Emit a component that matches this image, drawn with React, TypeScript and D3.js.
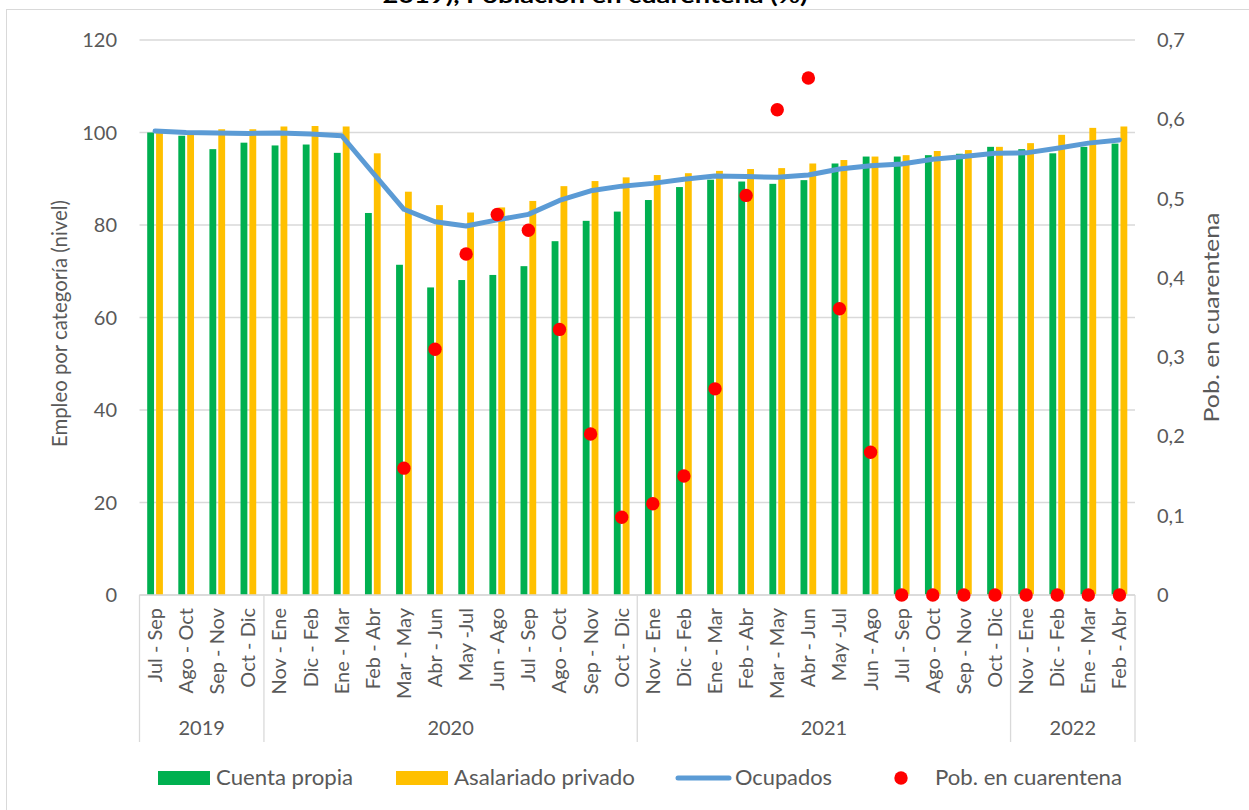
import React from "react";
import * as d3 from "d3";

const periods: string[] = [
  "Jul - Sep", "Ago - Oct", "Sep - Nov", "Oct - Dic",
  "Nov - Ene", "Dic - Feb", "Ene - Mar", "Feb - Abr", "Mar - May", "Abr - Jun", "May -Jul", "Jun - Ago", "Jul - Sep", "Ago - Oct", "Sep - Nov", "Oct - Dic",
  "Nov - Ene", "Dic - Feb", "Ene - Mar", "Feb - Abr", "Mar - May", "Abr - Jun", "May -Jul", "Jun - Ago", "Jul - Sep", "Ago - Oct", "Sep - Nov", "Oct - Dic",
  "Nov - Ene", "Dic - Feb", "Ene - Mar", "Feb - Abr",
];
const yearLabels: string[] = ["2019", "2020", "2021", "2022"];
const yearCounts: number[] = [4, 12, 12, 4];

const cuentaPropia: number[] = [
  100, 99.3, 96.4, 97.8,
  97.2, 97.4, 95.6, 82.6, 71.4, 66.5, 68.1, 69.2, 71.1, 76.5, 80.9, 82.9,
  85.4, 88.2, 89.8, 89.4, 88.9, 89.7, 93.3, 94.8, 94.8, 95.1, 95.4, 96.9,
  96.4, 95.5, 96.9, 97.6,
];
const asalariadoPrivado: number[] = [
  100.3, 99.8, 100.7, 100.7,
  101.3, 101.4, 101.3, 95.5, 87.2, 84.3, 82.7, 83.8, 85.2, 88.4, 89.5, 90.3,
  90.8, 91.2, 91.7, 92.1, 92.3, 93.3, 94.05, 94.8, 95.1, 96.0, 96.2, 96.9,
  97.7, 99.5, 101.0, 101.3,
];
const ocupados: number[] = [
  100.3, 100.0, 99.9, 99.8,
  99.9, 99.7, 99.3, 91.3, 83.4, 80.7, 79.8, 81.1, 82.3, 85.3, 87.4, 88.4,
  89.0, 89.9, 90.6, 90.5, 90.3, 90.8, 92.1, 92.8, 93.2, 94.2, 94.8, 95.5,
  95.6, 96.6, 97.7, 98.4,
];
const cuarentena: (number | null)[] = [
  null, null, null, null,
  null, null, null, null, 0.16, 0.31, 0.43, 0.48, 0.46, 0.335, 0.203, 0.098,
  0.115, 0.15, 0.26, 0.504, 0.612, 0.652, 0.361, 0.18, 0, 0, 0, 0,
  0, 0, 0, 0,
];
const leftTicks: number[] = [0, 20, 40, 60, 80, 100, 120];
const rightTicks: number[] = [0, 0.1, 0.2, 0.3, 0.4, 0.5, 0.6, 0.7];

const W = 1249;
const H = 810;
const FONT = "Lato, 'Open Sans', sans-serif";
const TXT = "#595959";
const GRID = "#D9D9D9";
const GREEN = "#00B050";
const YELLOW = "#FFC000";
const BLUE = "#5B9BD5";
const RED = "#FF0000";

export default function App() {
  const left = 139.5, right = 1135, top = 40, bottom = 595;
  const idx = periods.map((_, i) => i);
  const x = d3.scaleBand<number>().domain(idx).range([left, right]).padding(0);
  const bw = x.bandwidth();
  const cx = (i: number) => (x(i) as number) + bw / 2;
  const y = d3.scaleLinear().domain([0, 120]).range([bottom, top]);
  const y2 = d3.scaleLinear().domain([0, 0.7]).range([bottom, top]);
  const barW = bw * 0.22;
  const gap = bw * 0.065;

  const line = d3.line<number>().x((_, i) => cx(i)).y((d) => y(d));

  const fmt = (v: number) => (v === 0 ? "0" : d3.format(".1f")(v).replace(".", ","));

  const seps: number[] = [left];
  let acc = 0;
  const yearCenters: number[] = [];
  yearCounts.forEach((c) => {
    const start = acc;
    acc += c;
    const x0 = x(start) as number;
    const x1 = acc < periods.length ? (x(acc) as number) : right;
    seps.push(x1);
    yearCenters.push((x0 + x1) / 2);
  });

  return (
    <svg
      width={W}
      height={H}
      style={{ position: "absolute", left: 0, top: 0, background: "#fff" }}
      fontFamily={FONT}
    >
      <rect x={6.5} y={9.5} width={W} height={H} fill="#fff" stroke={GRID} strokeWidth={1} />
      <text x={595} y={3} textAnchor="middle" fontSize={21} fontWeight="bold" fill="#000" textLength={425} lengthAdjust="spacingAndGlyphs">
        2019), Población en cuarentena (%)
      </text>

      {leftTicks.map((t) => (
        <line key={"g" + t} x1={left} x2={right} y1={y(t)} y2={y(t)} stroke={GRID} strokeWidth={1.3} />
      ))}

      {leftTicks.map((t) => (
        <text key={"lt" + t} x={117} y={y(t)} dy="0.35em" textAnchor="end" fontSize={20} fill={TXT}>
          {t}
        </text>
      ))}
      {rightTicks.map((t) => (
        <text key={"rt" + t} x={1157} y={y2(t)} dy="0.35em" textAnchor="start" fontSize={20} fill={TXT}>
          {fmt(t)}
        </text>
      ))}

      <text transform={`translate(60,${(200 + 447) / 2}) rotate(-90)`} textAnchor="middle" dy="0.35em" fontSize={21} fill={TXT} textLength={247} lengthAdjust="spacingAndGlyphs">
        Empleo por categoría (nivel)
      </text>
      <text transform={`translate(1212,${(212 + 423) / 2}) rotate(-90)`} textAnchor="middle" dy="0.35em" fontSize={21} fill={TXT} textLength={210} lengthAdjust="spacingAndGlyphs">
        Pob. en cuarentena
      </text>

      {cuentaPropia.map((v, i) => (
        <rect key={"cp" + i} x={cx(i) - gap / 2 - barW} y={y(v)} width={barW} height={y(0) - y(v)} fill={GREEN} />
      ))}
      {asalariadoPrivado.map((v, i) => (
        <rect key={"as" + i} x={cx(i) + gap / 2} y={y(v)} width={barW} height={y(0) - y(v)} fill={YELLOW} />
      ))}

      <line x1={left} x2={right} y1={bottom} y2={bottom} stroke={GRID} strokeWidth={1.3} />
      {seps.map((s, i) => (
        <line key={"s" + i} x1={s} x2={s} y1={bottom} y2={742} stroke={GRID} strokeWidth={1.3} />
      ))}
      {periods.map((p, i) => (
        <text key={"p" + i} transform={`translate(${cx(i)},608) rotate(-90)`} textAnchor="end" dy="0.35em" fontSize={20} fill={TXT}>
          {p}
        </text>
      ))}
      {yearLabels.map((yl, i) => (
        <text key={"y" + i} x={yearCenters[i]} y={728} dy="0.35em" textAnchor="middle" fontSize={20} fill={TXT}>
          {yl}
        </text>
      ))}

      <path d={line(ocupados) || ""} fill="none" stroke={BLUE} strokeWidth={5} strokeLinejoin="round" strokeLinecap="round" />

      {cuarentena.map((v, i) =>
        v === null ? null : <circle key={"d" + i} cx={cx(i)} cy={y2(v)} r={6.7} fill={RED} />
      )}

      <rect x={158} y={771} width={52} height={14} fill={GREEN} />
      <text x={216} y={778} dy="0.35em" fontSize={21} fill={TXT} textLength={137} lengthAdjust="spacingAndGlyphs">Cuenta propia</text>
      <rect x={396} y={771} width={52} height={14} fill={YELLOW} />
      <text x={454} y={778} dy="0.35em" fontSize={21} fill={TXT} textLength={181} lengthAdjust="spacingAndGlyphs">Asalariado privado</text>
      <line x1={678} x2={729} y1={778} y2={778} stroke={BLUE} strokeWidth={5} strokeLinecap="round" />
      <text x={735} y={778} dy="0.35em" fontSize={21} fill={TXT} textLength={97} lengthAdjust="spacingAndGlyphs">Ocupados</text>
      <circle cx={901} cy={778} r={6.7} fill={RED} />
      <text x={935} y={778} dy="0.35em" fontSize={21} fill={TXT} textLength={187} lengthAdjust="spacingAndGlyphs">Pob. en cuarentena</text>
    </svg>
  );
}
